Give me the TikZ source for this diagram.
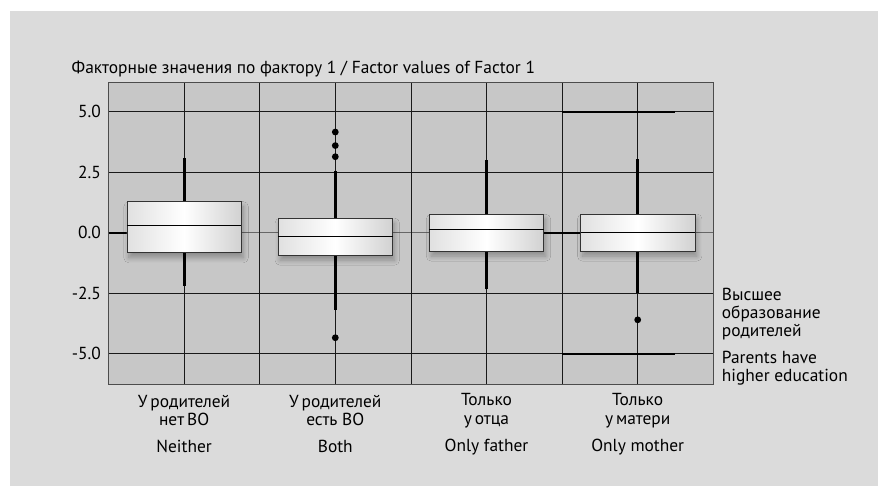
\documentclass[tikz,border=0pt]{standalone}
\usepackage{fontspec}
\setmainfont{PT Sans}
\usetikzlibrary{shadows.blur}
\tikzset{
	gridline/.style={line width=0.8pt, color=black!90},
	whiskerline/.style={line width=2.8pt, color=black},
	boxshade/.style={draw=black!80, line width=0.8pt, left color=black!12, right color=black!18, middle color=white,
		blur shadow={shadow xshift=2pt, shadow yshift=-5pt, shadow blur radius=5pt, shadow blur steps=12, shadow opacity=30}},
	axistext/.style={font=\fontsize{17.4}{18.3}\selectfont, inner sep=0pt, align=center},
	outlier/.style={fill=black},
}
% box plot: (x centre)(q1:median:q3:low whisker:high whisker)
\def\boxplot(#1)(#2:#3:#4:#5:#6){%
	\draw[whiskerline] (#1, #5) -- (#1, #6);
	\draw[boxshade] ({#1-57.2}, #2) rectangle ({#1+57.2}, #4);
	\draw[line width=0.9pt] ({#1-57.2}, #3) -- ({#1+57.2}, #3);}

\begin{document}
\begin{tikzpicture}[x=1pt, y=1pt]
			%%%%% START %%%%%
			\useasboundingbox (0, 0) rectangle (878, 486);
			\fill[white] (0, 0) rectangle (878, 486);
			\fill[black!14] (10, 0) rectangle (878, 475);
			\fill[black!22] (108.5, 102) rectangle (713, 404);
			
			\begin{scope}[shift={(0, 253.3)}, y=24.2pt]
			%%%%% GRID %%%%%
			\draw[gridline] (108.5, 5) -- (713, 5);
			\draw[gridline] (108.5, 2.5) -- (713, 2.5);
			\draw[gridline] (108.5, -2.5) -- (713, -2.5);
			\draw[gridline] (108.5, -5) -- (713, -5);
			\draw[line width=0.7pt, color=black!60] (108.5, 0) -- (713, 0);
			
			\draw[gridline] (184.1, -6.25) -- (184.1, 6.23);
			\draw[gridline] (259.3, -6.25) -- (259.3, 6.23);
			\draw[gridline] (335.3, -6.25) -- (335.3, 6.23);
			\draw[gridline] (411.0, -6.25) -- (411.0, 6.23);
			\draw[gridline] (486.5, -6.25) -- (486.5, 6.23);
			\draw[gridline] (562.3, -6.25) -- (562.3, 6.23);
			\draw[gridline] (637.7, -6.25) -- (637.7, 6.23);
			\draw[line width=0.8pt, color=black!70] (108.5, -6.25) rectangle (713, 6.23);
			
			\draw[line width=2.2pt] (108.5, 0) -- (126.9, 0);
			\draw[line width=2.2pt] (543.3, 0) -- (580.5, 0);
			\draw[line width=2pt] (562.3, 5) -- (674.7, 5);
			\draw[line width=2pt] (562.3, -5) -- (674.7, -5);
			
			%%%%% BOXES %%%%%
			\boxplot(184.1)(-0.83:0.28:1.28:-2.19:3.10)
			\boxplot(335.3)(-0.93:-0.14:0.60:-3.19:2.55)
			\boxplot(486.5)(-0.76:0.14:0.76:-2.34:3.00)
			\boxplot(637.7)(-0.76:0.00:0.77:-2.50:3.05)
			
			\fill[outlier] (335.3, 4.16) circle (3.4pt);
			\fill[outlier] (335.3, 3.60) circle (3.4pt);
			\fill[outlier] (335.3, 3.14) circle (3.4pt);
			\fill[outlier] (335.3, -4.34) circle (3.4pt);
			\fill[outlier] (637.7, -3.60) circle (3.4pt);
			\end{scope}
			
			%%%%% TEXT %%%%%
			\node[axistext, anchor=base west] (title) at (71.5, 412) {Факторные значения по фактору 1 / Factor values of Factor 1};
			
			\node[axistext, anchor=east] (tick5) at (101, 374.3) {5.0};
			\node[axistext, anchor=east] (tick25) at (101, 313.8) {2.5};
			\node[axistext, anchor=east] (tick0) at (101, 253.3) {0.0};
			\node[axistext, anchor=east] (tickm25) at (101, 192.8) {-2.5};
			\node[axistext, anchor=east] (tickm5) at (101, 132.3) {-5.0};
			
			\node[axistext] (neither) at (184.1, 75.2) {У\,родителей\\нет\,ВО};
			\node[axistext] (both) at (335.3, 75.2) {У\,родителей\\есть ВО};
			\node[axistext] (father) at (486.5, 75.2) {Только\\у\,отца};
			\node[axistext] (mother) at (637.7, 75.2) {Только\\у\,матери};
			
			\node[axistext] (neitherEn) at (184.1, 39.3) {Neither};
			\node[axistext] (bothEn) at (335.3, 39.3) {Both};
			\node[axistext] (fatherEn) at (486.5, 39.3) {Only father};
			\node[axistext] (motherEn) at (637.7, 39.3) {Only mother};
			
			\node[axistext, align=left, anchor=west] (legendRu) at (721.7, 172) {Высшее\\образование\\родителей};
			\node[axistext, align=left, anchor=west] (legendEn) at (721.7, 118) {Parents have\\higher education};
			%%%%% END %%%%%
\end{tikzpicture}
\end{document}
